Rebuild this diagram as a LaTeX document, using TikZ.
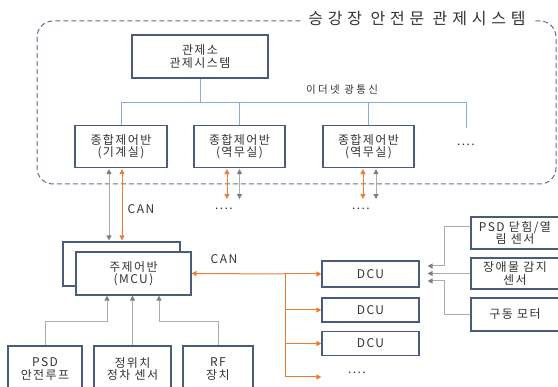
\documentclass[tikz,border=0pt]{standalone}
\usepackage{fontspec}
\setmainfont{Noto Sans CJK KR}[LetterSpace=12]
\newfontfamily\titlefont{Noto Sans CJK KR}[LetterSpace=30]
\newfontfamily\widefont{Noto Sans CJK KR}[LetterSpace=22]
\usetikzlibrary{arrows.meta}

\definecolor{boxline}{HTML}{4A5B7C}
\definecolor{framegray}{HTML}{5B6F91}
\definecolor{ethblue}{HTML}{8EA9DB}
\definecolor{canorange}{HTML}{ED7D31}
\definecolor{arrgray}{HTML}{ABABAB}
\definecolor{tipgray}{HTML}{7F7F7F}
\definecolor{txtgray}{HTML}{333333}

\tikzset{
  otip/.tip={Triangle[width=5pt,length=5pt]},
  gtip/.tip={Triangle[width=5pt,length=5pt,color=tipgray]},
  panel/.style={draw=boxline, line width=1.1pt, fill=white, align=center, inner sep=0pt,
    text=txtgray, font=\fontsize{12}{12.5}\selectfont},
  lbl/.style={text=txtgray, font=\fontsize{12}{13}\selectfont},
  frame/.style={draw=framegray, line width=1pt, dash pattern=on 5pt off 3pt, rounded corners=16pt},
  eth/.style={draw=ethblue, line width=0.9pt},
  canline/.style={draw=canorange, line width=1pt},
  oarr/.style={canline, -otip},
  odbl/.style={canline, otip-otip, shorten <=1pt, shorten >=1pt},
  garr/.style={draw=arrgray, line width=1pt, -gtip},
  gdbl/.style={draw=arrgray, line width=1pt, gtip-gtip, shorten <=1pt, shorten >=1pt},
}

\begin{document}
\begin{tikzpicture}[x=1pt, y=-1pt]
  \useasboundingbox (0,0) rectangle (558,387);

  % station frame
  \draw[frame] (37,21) rectangle (556,184);
  \node[fill=white, inner xsep=7pt, inner ysep=1pt, text=txtgray, font=\titlefont\fontsize{16}{18}\selectfont] (title) at (417,19) {승강장 안전문 관제시스템};

  % control centre and local panels
  \node[panel, minimum width=136pt, minimum height=43pt] (ctrl) at (200,56.5) {관제소\\관제시스템};
  \node[lbl, font=\widefont\fontsize{10.5}{12}\selectfont] (ethlbl) at (342,90) {이더넷 광통신};
  \node[panel, minimum width=92pt, minimum height=42pt] (p1) at (121,146.5) {종합제어반\\(기계실)};
  \node[panel, minimum width=91pt, minimum height=42pt] (p2) at (239.5,146.5) {종합제어반\\(역무실)};
  \node[panel, minimum width=91pt, minimum height=42pt] (p3) at (368.5,146.5) {종합제어반\\(역무실)};
  \node[lbl] (pdots) at (466,145) {....};

  \coordinate (busend) at (466,102);
  \draw[eth] (ctrl.south) -- (ctrl.south |- busend);
  \draw[eth] (p1.north) |- (busend) -- ++(0,26);
  \draw[eth] (p2.north) -- (p2.north |- busend);
  \draw[eth] (p3.north) -- (p3.north |- busend);

  % main control unit
  \node[panel, minimum width=117pt, minimum height=44pt] (mcuback) at (121.5,264) {};
  \node[panel, minimum width=115pt, minimum height=43pt] (mcu) at (133.5,273.5) {주제어반\\(MCU)};

  % CAN links from the panels
  \draw[gdbl] ([xshift=-12pt]p1.south) -- ([xshift=-12pt]p1.south |- mcuback.north);
  \draw[odbl] ([xshift=1pt]p1.south) -- ([xshift=1pt]p1.south |- mcuback.north);
  \draw[odbl] ([xshift=-12.5pt]p2.south) -- ++(0,32);
  \draw[gdbl] (p2.south) -- ++(0,32);
  \draw[odbl] ([xshift=-5.5pt]p3.south) -- ++(0,32);
  \draw[gdbl] ([xshift=7.5pt]p3.south) -- ++(0,32);
  \node[lbl] (can1) at (141,209) {CAN};
  \node[lbl] (dots2) at (224,209) {....};
  \node[lbl] (dots3) at (361,209) {....};

  % door control units
  \node[panel, minimum width=97pt, minimum height=26pt] (dcu1) at (370.5,274) {DCU};
  \node[panel, minimum width=97pt, minimum height=24pt] (dcu2) at (370.5,310) {DCU};
  \node[panel, minimum width=97pt, minimum height=24pt] (dcu3) at (370.5,343.5) {DCU};
  \node[lbl] (ddots) at (357,373) {....};
  \node[lbl] (can2) at (224,259) {CAN};

  \coordinate (bus) at (285,274);
  \coordinate (busbot) at (285,377);
  \draw[oarr] (bus) -- (mcu.east);
  \draw[oarr] (bus) -- (dcu1.west);
  \draw[canline] (bus) -- (busbot);
  \draw[oarr] (bus |- dcu2.west) -- (dcu2.west);
  \draw[oarr] (bus |- dcu3.west) -- (dcu3.west);
  \draw[oarr] (busbot) -- (busbot -| dcu1.west);

  % door sensors
  \node[panel, minimum width=88pt, minimum height=32pt] (sens1) at (515,233) {PSD 닫힘/열\\림 센서};
  \node[panel, minimum width=88pt, minimum height=31pt] (sens2) at (515,273.5) {장애물 감지\\센서};
  \node[panel, minimum width=88pt, minimum height=33pt] (sens3) at (515,314.5) {구동 모터};
  \draw[garr, shorten >=8pt] ([yshift=6pt]sens1.west) -- ++(-26,0) |- ([yshift=8pt]dcu1.east);
  \draw[garr, shorten >=8pt] (sens2.west) -- (sens2.west -| dcu1.east);
  \draw[garr, shorten >=8pt] (sens3.west) -- ++(-26,0) |- ([yshift=-7pt]dcu1.east);

  % field devices
  \node[panel, minimum width=74pt, minimum height=46pt] (psd) at (45,369) {PSD\\안전루프};
  \node[panel, minimum width=77pt, minimum height=46pt] (pos) at (132.5,369) {정위치\\정차 센서};
  \node[panel, minimum width=70pt, minimum height=46pt] (rf) at (218,369) {RF\\장치};
  \draw[garr] (psd.north) -- ++(0,-24) -| ([xshift=-26.5pt]mcu.south);
  \draw[garr] (pos.north) -- (pos.north |- mcu.south);
  \draw[garr] (rf.north) -- ++(0,-24) -| ([xshift=25.5pt]mcu.south);
\end{tikzpicture}
\end{document}
